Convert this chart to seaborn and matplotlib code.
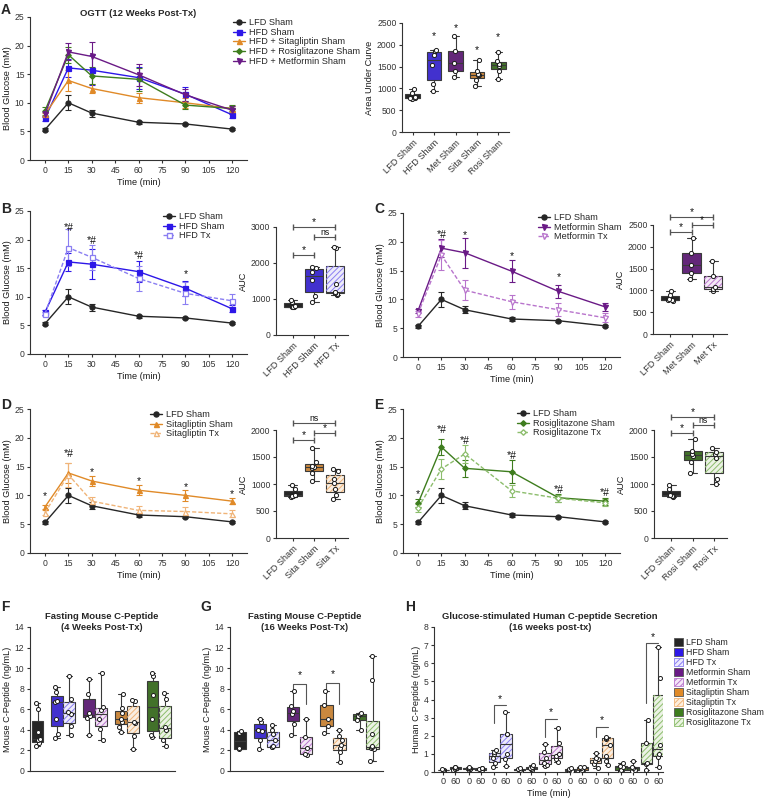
import numpy as np
import pandas as pd
import matplotlib
matplotlib.use('Agg')
import matplotlib.pyplot as plt
import seaborn as sns
from matplotlib.lines import Line2D
from matplotlib.patches import Patch, PathPatch

# ---- OGTT time course (mean, sem) ----
times = [0, 15, 30, 60, 90, 120]
lfd_sham_mean = [5.3, 10.0, 8.2, 6.6, 6.3, 5.4]
lfd_sham_sem = [0.3, 1.3, 0.6, 0.3, 0.2, 0.2]
hfd_sham_mean = [7.3, 16.1, 15.7, 14.4, 11.5, 7.9]
hfd_sham_sem = [0.4, 1.6, 2.6, 1.9, 1.3, 0.6]
hfd_tx_mean = [7.0, 18.6, 16.9, 13.2, 10.6, 9.3]
hfd_tx_sem = [0.4, 3.2, 2.2, 2.2, 1.9, 1.2]
met_sham_mean = [8.0, 18.9, 18.1, 14.9, 11.4, 8.7]
met_sham_sem = [0.4, 1.5, 2.6, 1.9, 1.1, 0.7]
met_tx_mean = [7.5, 17.7, 11.6, 9.6, 8.2, 6.8]
met_tx_sem = [0.5, 2.6, 1.7, 1.2, 1.1, 0.8]
sita_sham_mean = [8.0, 13.9, 12.5, 10.9, 10.0, 9.0]
sita_sham_sem = [0.3, 1.8, 0.8, 0.9, 0.9, 0.5]
sita_tx_mean = [7.0, 13.6, 9.0, 7.4, 7.2, 6.8]
sita_tx_sem = [0.4, 2.1, 0.8, 0.7, 0.7, 0.6]
rosi_sham_mean = [8.6, 18.4, 14.7, 14.1, 9.6, 9.0]
rosi_sham_sem = [0.7, 1.4, 1.5, 2.0, 0.7, 0.6]
rosi_tx_mean = [7.8, 14.6, 17.2, 10.8, 9.5, 8.7]
rosi_tx_sem = [0.7, 1.8, 1.6, 1.0, 0.6, 0.6]

# ---- AUC per mouse ----
auc_lfd_sham = [765, 770, 775, 800, 905, 975]
auc_hfd_sham = [930, 1090, 1530, 1760, 1850, 1880]
auc_hfd_tx = [1120, 1150, 1170, 1200, 1410, 2420, 2440]
auc_met_sham = [1260, 1400, 1580, 1850, 2210]
auc_met_tx = [980, 1040, 1080, 1320, 1680]
auc_sita_sham = [1050, 1200, 1300, 1310, 1330, 1410, 1660]
auc_sita_tx = [730, 790, 900, 1010, 1100, 1250, 1280]
auc_rosi_sham = [1210, 1410, 1520, 1560, 1620, 1830]
auc_rosi_tx = [1000, 1100, 1490, 1560, 1600, 1670]

# ---- fasting mouse C-peptide, 4 weeks (F) ----
cp4_lfd_sham = [2.4, 2.7, 3.0, 3.1, 3.8, 6.0, 6.6]
cp4_hfd_sham = [3.2, 3.6, 5.1, 6.7, 6.8, 7.7, 8.2]
cp4_hfd_tx = [3.5, 4.4, 5.5, 5.7, 7.0, 9.2]
cp4_met_sham = [3.5, 5.2, 5.3, 5.6, 7.5, 8.9]
cp4_met_tx = [3.0, 4.1, 5.1, 5.9, 6.2, 9.5]
cp4_sita_sham = [3.8, 4.3, 4.8, 5.1, 5.6, 6.1, 7.5]
cp4_sita_tx = [2.1, 3.4, 4.7, 4.8, 6.8, 6.9]
cp4_rosi_sham = [3.3, 3.5, 5.1, 7.4, 9.2, 9.5]
cp4_rosi_tx = [2.4, 3.0, 4.0, 4.3, 7.0, 7.6]

# ---- fasting mouse C-peptide, 16 weeks (G) ----
cp16_lfd_sham = [2.1, 2.2, 3.7, 3.9]
cp16_hfd_sham = [2.1, 3.0, 3.9, 4.0, 4.8, 5.1]
cp16_hfd_tx = [2.3, 2.3, 2.4, 3.0, 3.6, 4.0, 4.5]
cp16_met_sham = [3.5, 4.6, 5.5, 5.8, 6.3, 7.8]
cp16_met_tx = [1.6, 1.7, 2.2, 3.3, 5.1]
cp16_sita_sham = [3.7, 4.4, 5.1, 6.4, 7.8]
cp16_sita_tx = [0.9, 1.8, 2.2, 2.5, 3.0, 3.4, 4.0]
cp16_rosi_sham = [4.0, 5.0, 5.3, 5.5, 5.6]
cp16_rosi_tx = [1.0, 2.1, 2.2, 2.3, 2.4, 3.6, 8.8, 11.2]

# ---- human C-peptide at 0 and 60 min (H) ----
hcp_lfd_sham = ([0.05, 0.1, 0.1, 0.15], [0.1, 0.15, 0.2, 0.25, 0.3])
hcp_hfd_sham = ([0.1, 0.15, 0.2, 0.2, 0.25], [0.1, 0.15, 0.2, 0.2])
hcp_hfd_tx = ([0.3, 0.5, 0.8, 1.0, 1.1, 1.2], [0.35, 0.7, 1.0, 2.1, 2.1, 3.3])
hcp_met_sham = ([0.05, 0.1, 0.15, 0.2], [0.1, 0.15, 0.2, 0.3, 0.4])
hcp_met_tx = ([0.35, 0.4, 0.5, 0.8, 1.1, 1.55], [0.55, 0.7, 0.9, 1.0, 1.6, 2.45])
hcp_sita_sham = ([0.0, 0.05, 0.1, 0.15, 0.2], [0.05, 0.1, 0.2, 0.25, 0.3])
hcp_sita_tx = ([0.2, 0.45, 0.6, 0.7, 0.8, 1.05], [0.4, 0.6, 0.9, 1.5, 1.8, 1.9, 1.95])
hcp_rosi_sham = ([0.05, 0.1, 0.3, 0.35, 0.5], [0.05, 0.1, 0.2, 0.3, 0.6])
hcp_rosi_tx = ([0.1, 0.45, 0.5, 1.6, 2.85], [0.3, 0.85, 1.0, 1.5, 5.2, 6.9])

groups = ['LFD Sham', 'HFD Sham', 'HFD Tx', 'Metformin Sham', 'Metformin Tx',
          'Sitagliptin Sham', 'Sitagliptin Tx', 'Rosiglitazone Sham', 'Rosiglitazone Tx']

colors = {
    'LFD Sham': '#262626', 'HFD Sham': '#2d17e8', 'HFD Tx': '#8a7ef2',
    'Metformin Sham': '#6a1a86', 'Metformin Tx': '#b874cc',
    'Sitagliptin Sham': '#e08a28', 'Sitagliptin Tx': '#f0b478',
    'Rosiglitazone Sham': '#3e7d1e', 'Rosiglitazone Tx': '#8cbd6c',
}
tx_face = {'HFD Tx': '#ebe8fd', 'Metformin Tx': '#f5e6f8',
           'Sitagliptin Tx': '#fdeedd', 'Rosiglitazone Tx': '#ebf4e2'}
markers = {'LFD': 'o', 'HFD': 's', 'Metformin': 'v', 'Sitagliptin': '^', 'Rosiglitazone': 'D'}

line_data = {
    'LFD Sham': (lfd_sham_mean, lfd_sham_sem), 'HFD Sham': (hfd_sham_mean, hfd_sham_sem),
    'HFD Tx': (hfd_tx_mean, hfd_tx_sem), 'Metformin Sham': (met_sham_mean, met_sham_sem),
    'Metformin Tx': (met_tx_mean, met_tx_sem), 'Sitagliptin Sham': (sita_sham_mean, sita_sham_sem),
    'Sitagliptin Tx': (sita_tx_mean, sita_tx_sem), 'Rosiglitazone Sham': (rosi_sham_mean, rosi_sham_sem),
    'Rosiglitazone Tx': (rosi_tx_mean, rosi_tx_sem),
}

sns.set_theme(style='ticks')
plt.rcParams['font.family'] = ['Liberation Sans', 'DejaVu Sans']
plt.rcParams['hatch.linewidth'] = 0.7
plt.rcParams['axes.linewidth'] = 0.8
plt.rcParams['axes.edgecolor'] = '#333333'
plt.rcParams['xtick.color'] = '#333333'
plt.rcParams['ytick.color'] = '#333333'
plt.rcParams['xtick.major.size'] = 2.5
plt.rcParams['ytick.major.size'] = 2.5
plt.rcParams['xtick.major.width'] = 0.8
plt.rcParams['ytick.major.width'] = 0.8
plt.rcParams['xtick.major.pad'] = 2
plt.rcParams['ytick.major.pad'] = 1.5
plt.rcParams['xtick.labelsize'] = 6.2
plt.rcParams['ytick.labelsize'] = 6.2
plt.rcParams['axes.labelsize'] = 6.6
plt.rcParams['axes.labelcolor'] = '#1a1a1a'

W, H = 768, 798
fig = plt.figure(figsize=(W / 100, H / 100), dpi=100)


def add_ax(l, t, r, b):
    return fig.add_axes([l / W, 1 - b / H, (r - l) / W, (b - t) / H])


def ftext(x, y, s, **kw):
    fig.text(x / W, 1 - y / H, s, **kw)


def face(g):
    return tx_face.get(g, colors[g])


def drug(g):
    return g.split()[0]


def line_panel(ax, keys, labels, sig, leg_xy):
    handles = []
    for k in keys:
        mean, sem = line_data[k]
        c = colors[k]
        tx = k.endswith('Tx')
        m = markers[drug(k)]
        ms = 2.8 if m == 'D' else 3.6
        sns.lineplot(x=times, y=mean, color=c, marker=m, markersize=ms,
                     markerfacecolor='white' if tx else c, markeredgecolor=c,
                     markeredgewidth=0.9, linewidth=1.0, linestyle=(0, (3, 1.5)) if tx else '-',
                     errorbar=None, ax=ax)
        ax.errorbar(times, mean, yerr=sem, fmt='none', ecolor=c, elinewidth=0.8,
                    capsize=2, capthick=0.8, zorder=1.5)
        handles.append(Line2D([], [], color=c, marker=m, markersize=ms,
                              markerfacecolor='white' if tx else c, markeredgecolor=c,
                              linewidth=1.0, linestyle=(0, (3, 1.5)) if tx else '-'))
    for t, y, s in sig:
        ax.text(t, y, s, ha='center', va='center', fontsize=7.5, color='#111111')
    ax.set_xlim(-9.6, 129.5)
    ax.set_ylim(0, 25)
    ax.set_xticks(range(0, 121, 15))
    ax.set_yticks(range(0, 26, 5))
    ax.set_xlabel('Time (min)', labelpad=2)
    ax.set_ylabel('Blood Glucose (mM)', labelpad=2)
    sns.despine(ax=ax)
    ax.legend(handles, labels, loc='upper left', bbox_to_anchor=(leg_xy[0] / W, 1 - leg_xy[1] / H),
              bbox_transform=fig.transFigure, frameon=False, fontsize=6.6, handlelength=1.3,
              handletextpad=0.4, labelspacing=0.08, borderpad=0, borderaxespad=0)


def add_hatch(ax, pos, grp):
    pos = np.asarray(pos, dtype=float)
    for p in list(ax.patches):
        v = p.get_path().vertices
        if len(v) == 0:
            continue
        cx = (v[:, 0].min() + v[:, 0].max()) / 2
        g = grp[int(np.argmin(np.abs(pos - cx)))]
        if g.endswith('Tx'):
            ax.add_patch(PathPatch(p.get_path(), transform=p.get_transform(), facecolor='none',
                                   edgecolor=colors[g], lw=0, hatch='//////',
                                   zorder=p.get_zorder() + 0.01))


def auc_panel(ax, labels, grp, values, ylim, ystep, sigs, xlim, ylabel='AUC', width=0.85):
    df = pd.DataFrame({'label': np.repeat(labels, [len(v) for v in values]),
                       'auc': np.concatenate(values)})
    pal = {lab: face(g) for lab, g in zip(labels, grp)}
    sns.boxplot(data=df, x='label', y='auc', hue='label', order=labels, hue_order=labels,
                palette=pal, whis=(0, 100), width=width, linecolor='#3a3a3a', linewidth=0.8,
                legend=False, ax=ax)
    add_hatch(ax, range(len(labels)), grp)
    sns.stripplot(data=df, x='label', y='auc', order=labels, color='white', edgecolor='#1a1a1a',
                  linewidth=0.7, size=3.0, jitter=0.12, zorder=5, ax=ax)
    for s in sigs:
        if len(s) == 4:
            x1, x2, y, txt = s
            ax.plot([x1, x2], [y, y], color='#555555', lw=0.8, marker='|', ms=4, clip_on=False)
            ax.text((x1 + x2) / 2, y, txt, ha='center', va='bottom',
                    fontsize=7.5 if txt == '*' else 6.2, color='#111111')
        else:
            x, y = s
            ax.text(x, y, '*', ha='center', va='center', fontsize=7.5, color='#111111')
    ax.set_ylim(*ylim)
    ax.set_yticks(np.arange(0, ylim[1] + 1, ystep))
    ax.set_xlim(*xlim)
    ax.set_xlabel('')
    ax.set_ylabel(ylabel, labelpad=2)
    ax.tick_params(axis='x', labelrotation=45, labelsize=6.6)
    for lab in ax.get_xticklabels():
        lab.set_ha('right')
        lab.set_rotation_mode('anchor')
    sns.despine(ax=ax)


def cpep_panel(ax, pos, grp, values, ylim, ystep, xlim, ylabel):
    df = pd.DataFrame({'pos': np.repeat(pos, [len(v) for v in values]),
                       'val': np.concatenate(values),
                       'grp': np.repeat(grp, [len(v) for v in values])})
    pal = {g: face(g) for g in groups}
    sns.boxplot(data=df, x='pos', y='val', hue='grp', hue_order=groups, palette=pal,
                native_scale=True, dodge=False, whis=(0, 100), width=0.95,
                linecolor='#3a3a3a', linewidth=0.8, legend=False, ax=ax)
    add_hatch(ax, pos, grp)
    sns.stripplot(data=df, x='pos', y='val', native_scale=True, color='white',
                  edgecolor='#1a1a1a', linewidth=0.7, size=2.9, jitter=0.17, zorder=5, ax=ax)
    ax.set_ylim(*ylim)
    ax.set_yticks(np.arange(0, ylim[1] + 0.01, ystep))
    ax.set_xlim(*xlim)
    ax.set_xlabel('')
    ax.set_ylabel(ylabel, labelpad=2)
    sns.despine(ax=ax)


def bracket(ax, xs, ys, sx, sy):
    ax.plot(xs, ys, color='#555555', lw=0.8)
    ax.text(sx, sy, '*', ha='center', va='center', fontsize=7.5, color='#111111')


# ---------------- A ----------------
ax = add_ax(30, 17, 247, 160)
line_panel(ax, ['LFD Sham', 'HFD Sham', 'Sitagliptin Sham', 'Rosiglitazone Sham', 'Metformin Sham'],
           ['LFD Sham', 'HFD Sham', 'HFD + Sitagliptin Sham', 'HFD + Rosiglitazone Sham',
            'HFD + Metformin Sham'], [], (233, 18))
ftext(138, 13, 'OGTT (12 Weeks Post-Tx)', ha='center', va='center', fontsize=6.8, weight='bold')

ax = add_ax(402, 23, 509, 132)
auc_panel(ax, ['LFD Sham', 'HFD Sham', 'Met Sham', 'Sita Sham', 'Rosi Sham'],
          ['LFD Sham', 'HFD Sham', 'Metformin Sham', 'Sitagliptin Sham', 'Rosiglitazone Sham'],
          [auc_lfd_sham, auc_hfd_sham, auc_met_sham, auc_sita_sham, auc_rosi_sham],
          (0, 2500), 500, [(1, 2190), (2, 2390), (3, 1890), (4, 2180)], (-0.5, 4.5),
          ylabel='Area Under Curve', width=0.68)

# ---------------- B ----------------
ax = add_ax(30, 211, 247, 354)
line_panel(ax, ['LFD Sham', 'HFD Sham', 'HFD Tx'], ['LFD Sham', 'HFD Sham', 'HFD Tx'],
           [(15, 22.0, '*#'), (30, 19.8, '*#'), (60, 17.2, '*#'), (90, 13.9, '*')], (163, 212))
ax = add_ax(276, 227, 348, 335)
auc_panel(ax, ['LFD Sham', 'HFD Sham', 'HFD Tx'], ['LFD Sham', 'HFD Sham', 'HFD Tx'],
          [auc_lfd_sham, auc_hfd_sham, auc_hfd_tx], (0, 3000), 1000,
          [(0, 1, 2210, '*'), (1, 2, 2720, 'ns'), (0, 2, 3000, '*')], (-0.8, 2.6))

# ---------------- C ----------------
ax = add_ax(403, 213, 620, 357)
line_panel(ax, ['LFD Sham', 'Metformin Sham', 'Metformin Tx'],
           ['LFD Sham', 'Metformin Sham', 'Metformin Tx'],
           [(15, 21.2, '*#'), (30, 21.2, '*'), (60, 17.6, '*'), (90, 13.9, '*')], (538, 213))
ax = add_ax(653, 225, 727, 334)
auc_panel(ax, ['LFD Sham', 'Met Sham', 'Met Tx'], ['LFD Sham', 'Metformin Sham', 'Metformin Tx'],
          [auc_lfd_sham, auc_met_sham, auc_met_tx], (0, 2500), 500,
          [(0, 1, 2330, '*'), (1, 2, 2490, '*'), (0, 2, 2690, '*')], (-0.8, 2.65))

# ---------------- D ----------------
ax = add_ax(30, 409, 247, 553)
line_panel(ax, ['LFD Sham', 'Sitagliptin Sham', 'Sitagliptin Tx'],
           ['LFD Sham', 'Sitagliptin Sham', 'Sitagliptin Tx'],
           [(0, 9.9, '*'), (15, 17.2, '*#'), (30, 14.1, '*'), (60, 12.5, '*'),
            (90, 11.5, '*'), (120, 10.2, '*')], (150, 410))
ax = add_ax(276, 430, 348, 538)
auc_panel(ax, ['LFD Sham', 'Sita Sham', 'Sita Tx'], ['LFD Sham', 'Sitagliptin Sham', 'Sitagliptin Tx'],
          [auc_lfd_sham, auc_sita_sham, auc_sita_tx], (0, 2000), 500,
          [(0, 1, 1815, '*'), (1, 2, 1950, '*'), (0, 2, 2125, 'ns')], (-0.8, 2.6))

# ---------------- E ----------------
ax = add_ax(403, 409, 620, 553)
line_panel(ax, ['LFD Sham', 'Rosiglitazone Sham', 'Rosiglitazone Tx'],
           ['LFD Sham', 'Rosiglitazone Sham', 'Rosiglitazone Tx'],
           [(0, 10.2, '*'), (15, 21.3, '*#'), (30, 19.4, '*#'), (60, 16.9, '*#'),
            (90, 11.0, '*#'), (120, 10.5, '*#')], (517, 409))
ax = add_ax(654, 430, 727, 538)
auc_panel(ax, ['LFD Sham', 'Rosi Sham', 'Rosi Tx'],
          ['LFD Sham', 'Rosiglitazone Sham', 'Rosiglitazone Tx'],
          [auc_lfd_sham, auc_rosi_sham, auc_rosi_tx], (0, 2000), 500,
          [(0, 1, 1950, '*'), (1, 2, 2090, 'ns'), (0, 2, 2235, '*')], (-0.8, 2.6))

# ---------------- F / G ----------------
fg_pos = [0.0] + [1.55 + 2.55 * k + d for k in range(4) for d in (0, 1)]

ax = add_ax(30, 627, 175, 771)
cpep_panel(ax, fg_pos, groups,
           [cp4_lfd_sham, cp4_hfd_sham, cp4_hfd_tx, cp4_met_sham, cp4_met_tx,
            cp4_sita_sham, cp4_sita_tx, cp4_rosi_sham, cp4_rosi_tx],
           (0, 14), 2, (-0.6, 11.0), 'Mouse C-Peptide (ng/mL)')
ax.set_xticks([])
ftext(102, 622, 'Fasting Mouse C-Peptide\n(4 Weeks Post-Tx)', ha='center', va='center',
      fontsize=6.8, weight='bold', linespacing=1.15)

ax = add_ax(230, 627, 383, 771)
cpep_panel(ax, fg_pos, groups,
           [cp16_lfd_sham, cp16_hfd_sham, cp16_hfd_tx, cp16_met_sham, cp16_met_tx,
            cp16_sita_sham, cp16_sita_tx, cp16_rosi_sham, cp16_rosi_tx],
           (0, 14), 2, (-0.75, 11.0), 'Mouse C-Peptide (ng/mL)')
ax.set_xticks([])
bracket(ax, [fg_pos[3], fg_pos[3], fg_pos[4], fg_pos[4]], [8.0, 8.5, 8.5, 6.5],
        (fg_pos[3] + fg_pos[4]) / 2, 9.3)
bracket(ax, [fg_pos[5], fg_pos[5], fg_pos[6], fg_pos[6]], [8.0, 8.6, 8.6, 6.5],
        (fg_pos[5] + fg_pos[6]) / 2, 9.4)
ftext(305, 622, 'Fasting Mouse C-Peptide\n(16 Weeks Post-Tx)', ha='center', va='center',
      fontsize=6.8, weight='bold', linespacing=1.15)

# ---------------- H ----------------
h_sets = [hcp_lfd_sham, hcp_hfd_sham, hcp_hfd_tx, hcp_met_sham, hcp_met_tx,
          hcp_sita_sham, hcp_sita_tx, hcp_rosi_sham, hcp_rosi_tx]
h_pos = [2.15 * k + d for k in range(9) for d in (0, 1)]
h_grp = [g for g in groups for _ in (0, 1)]
h_vals = [s[d] for s in h_sets for d in (0, 1)]
ax = add_ax(434, 627, 663, 772)
cpep_panel(ax, h_pos, h_grp, h_vals, (0, 8), 1, (-0.8, 18.6), 'Human C-Peptide (ng/mL)')
ax.set_xticks(h_pos)
ax.set_xticklabels(['0', '60'] * 9)
ax.tick_params(axis='x', length=2, pad=1.5, labelsize=6.6)
ax.set_xlabel('Time (min)', labelpad=2)
for k, (yh, ylow, ys) in zip([2, 4, 6, 8], [(3.7, 2.7, 4.05), (2.9, 1.95, 3.3),
                                          (2.5, 1.95, 2.85), (7.1, 3.8, 7.45)]):
    x0, x1 = h_pos[2 * k], h_pos[2 * k + 1]
    bracket(ax, [x0, x0, x1], [ylow, yh, yh], (x0 + x1) / 2, ys)
leg_handles = [Patch(facecolor=face(g), edgecolor=colors[g] if g.endswith('Tx') else '#555555',
                     hatch='//////' if g.endswith('Tx') else None, lw=0.6) for g in groups]
ax.legend(leg_handles, groups, loc='upper left', bbox_to_anchor=(674 / W, 1 - 638 / H),
          bbox_transform=fig.transFigure, frameon=False, fontsize=6.3, handlelength=1.0,
          handleheight=1.0, handletextpad=0.4, labelspacing=0.12, borderpad=0, borderaxespad=0)
ftext(550, 622, 'Glucose-stimulated Human C-peptide Secretion\n(16 weeks post-tx)',
      ha='center', va='center', fontsize=6.8, weight='bold', linespacing=1.15)

# ---------------- panel letters ----------------
for x, y, s in [(1, 3, 'A'), (1, 202, 'B'), (374, 202, 'C'), (1, 398, 'D'), (374, 398, 'E'),
                (1, 600, 'F'), (200, 600, 'G'), (405, 600, 'H')]:
    ftext(x, y, s, ha='left', va='top', fontsize=10, weight='bold')

fig.savefig('out.png', dpi=100)
